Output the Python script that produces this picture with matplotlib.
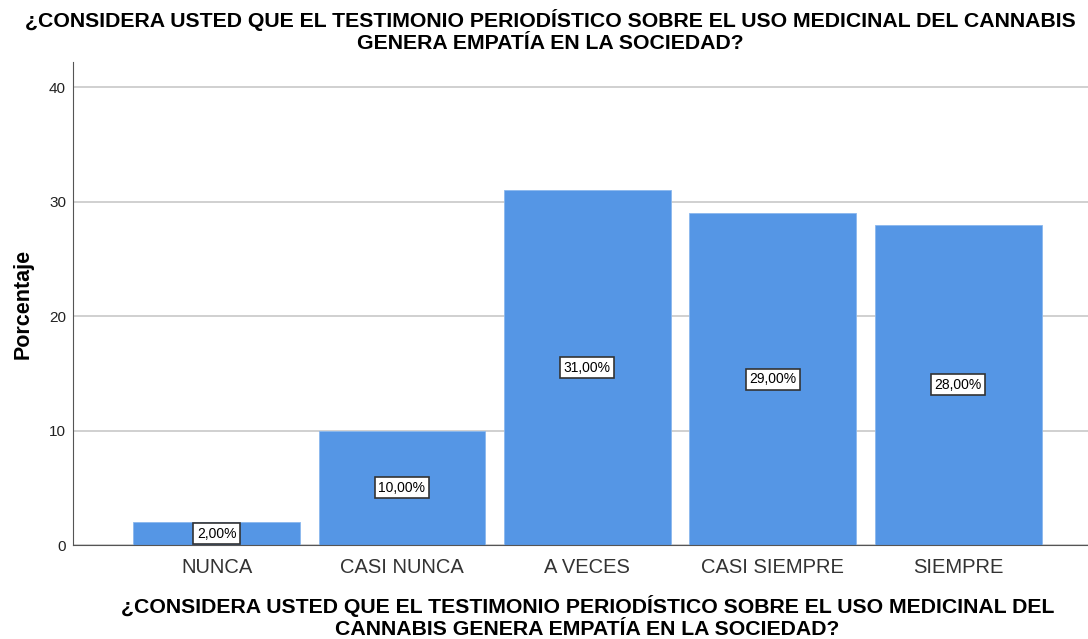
import matplotlib
matplotlib.use('Agg')
import matplotlib.pyplot as plt

categorias = ['NUNCA', 'CASI NUNCA', 'A VECES', 'CASI SIEMPRE', 'SIEMPRE']
porcentajes = [2.0, 10.0, 31.0, 29.0, 28.0]
etiquetas = ['2,00%', '10,00%', '31,00%', '29,00%', '28,00%']

titulo = '¿CONSIDERA USTED QUE EL TESTIMONIO PERIODÍSTICO SOBRE EL USO MEDICINAL DEL CANNABIS\nGENERA EMPATÍA EN LA SOCIEDAD?'
titulo_x = '¿CONSIDERA USTED QUE EL TESTIMONIO PERIODÍSTICO SOBRE EL USO MEDICINAL DEL\nCANNABIS GENERA EMPATÍA EN LA SOCIEDAD?'

plt.rcParams['font.family'] = ['Liberation Sans', 'DejaVu Sans']

fig = plt.figure(figsize=(10.88, 6.39), dpi=100)
ax = fig.add_axes([0.0671, 0.1471, 0.9329, 0.7559])

x = list(range(len(categorias)))
ax.bar(x, porcentajes, width=0.9, color='#5596e5', edgecolor='#8ab8ee', linewidth=0.6, zorder=2)

for xi, v, t in zip(x, porcentajes, etiquetas):
    ax.text(xi, v / 2, t, ha='center', va='center', fontsize=10, zorder=3,
            bbox=dict(boxstyle='square,pad=0.25', facecolor='white', edgecolor='#333333', linewidth=1.2))

ax.set_xlim(-0.774, 4.70)
ax.set_ylim(0, 42.2)
ax.set_yticks([0, 10, 20, 30, 40])
ax.set_xticks(x)
ax.set_xticklabels(categorias, fontsize=14.5, color='#333333')
ax.tick_params(axis='x', length=0, pad=9)
ax.tick_params(axis='y', length=0, pad=5, labelsize=11, colors='#222222')
ax.yaxis.grid(True, color='#c8c8c8', linewidth=1.2, zorder=0)
ax.set_axisbelow(True)

for s in ['top', 'right']:
    ax.spines[s].set_visible(False)
ax.spines['left'].set_color('#555555')
ax.spines['bottom'].set_color('#555555')

ax.set_ylabel('Porcentaje', fontsize=15.5, fontweight='bold', labelpad=11)
ax.set_xlabel(titulo_x, fontsize=15.3, fontweight='bold', linespacing=1.15, va='center')
ax.xaxis.set_label_coords(0.507, -0.149)
fig.text(0.506, 0.9515, titulo, ha='center', va='center', fontsize=15.3, fontweight='bold', linespacing=1.15)

fig.savefig('out.png', dpi=100)
